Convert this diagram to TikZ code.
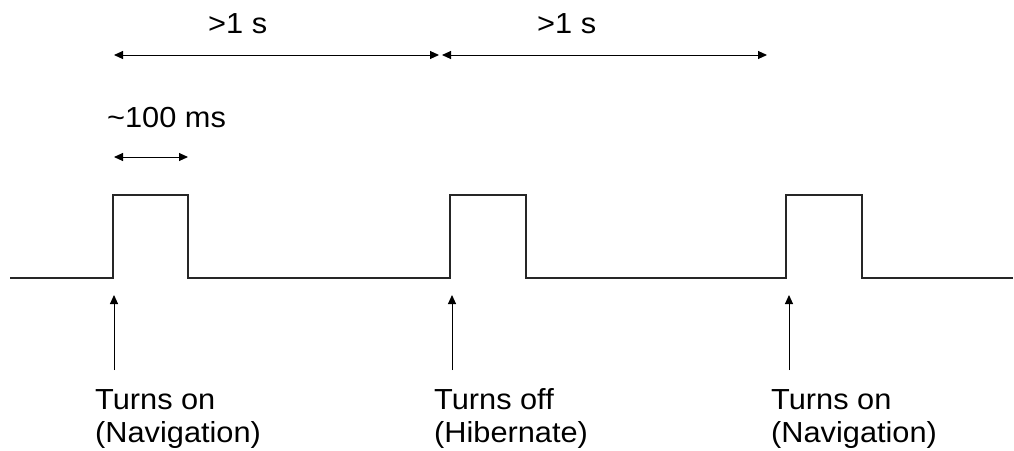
\documentclass[tikz,border=0pt]{standalone}
\usepackage{fontspec}
\setmainfont{Liberation Sans}[FakeStretch=1.06]
\usetikzlibrary{arrows.meta}
\begin{document}
\begin{tikzpicture}[x=1pt,y=-1pt,
  sig/.style={line width=1.1pt,draw=black!85,line join=miter},
  dim/.style={line width=1pt,{Triangle[length=9pt,width=8pt]}-{Triangle[length=9pt,width=8pt]}},
  up/.style={line width=1pt,-{Triangle[length=9pt,width=8pt]}},
  lbl/.style={inner sep=0pt,anchor=base west,font=\fontsize{29}{34}\selectfont}]
\useasboundingbox (0,0) rectangle (1014,450);
% signal
\coordinate (s0) at (10,278);
\coordinate (p1a) at (113,278); \coordinate (p1b) at (188,278);
\coordinate (p2a) at (450,278); \coordinate (p2b) at (526,278);
\coordinate (p3a) at (786,278); \coordinate (p3b) at (862,278);
\coordinate (s1) at (1013,278);
\draw[sig] (s0) -- (p1a) -- ++(0,-83) -| (p1b) -- (p2a) -- ++(0,-83) -| (p2b)
  -- (p3a) -- ++(0,-83) -| (p3b) -- (s1);
% top dimensions
\coordinate (d1a) at (114,55); \coordinate (d1b) at (439,55);
\coordinate (d2a) at (442,55); \coordinate (d2b) at (767,55);
\draw[dim] (d1a) -- (d1b);
\draw[dim] (d2a) -- (d2b);
\node[lbl] (t1) at (208,33) {>1 s};
\node[lbl] (t2) at (537,33) {>1 s};
% 100 ms
\coordinate (m1) at (114,157); \coordinate (m2) at (188,157);
\draw[dim] (m1) -- (m2);
\node[lbl] (tm) at (107,127) {\textasciitilde 100 ms};
% up arrows
\coordinate (a1) at (114,370); \coordinate (a1t) at (114,295);
\coordinate (a2) at (452,370); \coordinate (a2t) at (452,295);
\coordinate (a3) at (789,370); \coordinate (a3t) at (789,295);
\draw[up] (a1) -- (a1t);
\draw[up] (a2) -- (a2t);
\draw[up] (a3) -- (a3t);
% labels
\node[lbl] (l1a) at (95,409) {Turns on};
\node[lbl] (l1b) at (95,442) {(Navigation)};
\node[lbl] (l2a) at (434,409) {Turns off};
\node[lbl] (l2b) at (434,442) {(Hibernate)};
\node[lbl] (l3a) at (771,409) {Turns on};
\node[lbl] (l3b) at (771,442) {(Navigation)};
\end{tikzpicture}
\end{document}
